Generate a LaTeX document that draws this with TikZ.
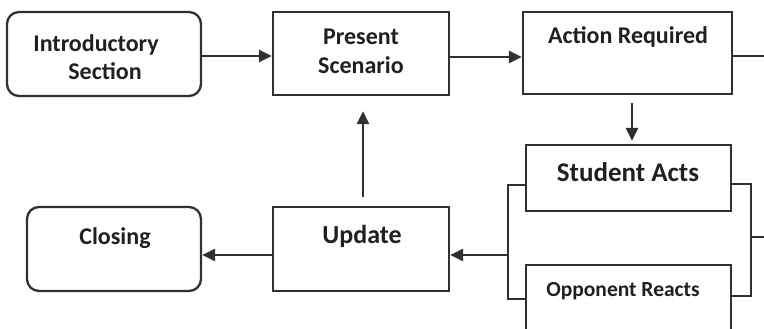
\documentclass[tikz,border=0pt]{standalone}
\usepackage{fontspec}
\setmainfont{Carlito}
\usetikzlibrary{arrows.meta}
\definecolor{edge}{HTML}{303030}
\definecolor{ink}{HTML}{202020}
\tikzset{
  box/.style={draw=edge, line width=2.3pt, fill=white, minimum width=#1, inner sep=0pt},
  rbox/.style={box=#1, rounded corners=12pt},
  txt/.style={text=ink, font=\bfseries, align=center, inner sep=0pt},
  conn/.style={draw=edge, line width=2.3pt},
  arr/.style={conn, -{Triangle[length=13pt,width=12pt]}},
}
\newcommand{\fs}[1]{\fontsize{#1}{#1}\selectfont}
\begin{document}
\begin{tikzpicture}[x=1pt,y=-1pt]
\useasboundingbox[fill=white] (0,0) rectangle (764,329);
% boxes
\node[rbox=194pt, minimum height=84pt] (intro) at (104,54) {};
\node[box=176pt, minimum height=83pt] (present) at (361,53.5) {};
\node[box=209pt, minimum height=82pt] (action) at (627.5,53) {};
\node[box=205pt, minimum height=66pt] (student) at (628.5,178) {};
\node[box=205pt, minimum height=76pt] (opponent) at (628.5,303) {};
\node[box=176pt, minimum height=84pt] (update) at (361,249) {};
\node[rbox=174pt, minimum height=84pt] (closing) at (114,249) {};
% texts
\node[txt, font=\bfseries\fs{24pt}\linespread{1.17}\selectfont] (tintro) at (96,57) {Introductory\\\hspace*{18pt}Section};
\node[txt, font=\bfseries\fs{24pt}\linespread{1.2}\selectfont] (tpresent) at (361,51) {Present\\Scenario};
\node[txt, font=\bfseries\fs{24pt}] (taction) at (628,37) {Action Required};
\node[txt, font=\bfseries\fs{27pt}] (tstudent) at (628,172) {Student Acts};
\node[txt, font=\bfseries\fs{21.5pt}] (topp) at (623,291) {Opponent Reacts};
\node[txt, font=\bfseries\fs{26pt}] (tupdate) at (362,236) {Update};
\node[txt, font=\bfseries\fs{24pt}] (tclosing) at (115,238) {Closing};
% connector points
\coordinate (aout) at (764,56);
\coordinate (lb) at (508,255);
\coordinate (rb) at (751,237);
\coordinate (rout) at (764,237);
% connectors
\draw[arr] (intro.east |- 0,56) -- (present.west |- 0,56);
\draw[arr] (present.east |- 0,57) -- (action.west |- 0,57);
\draw[conn] (action.east |- aout) -- (aout);
\draw[arr, shorten <=8pt, shorten >=3pt] (action.south -| 632,0) -- (student.north -| 632,0);
\draw[conn] (student.west |- 0,185) -| (lb) |- (opponent.west |- 0,299);
\draw[arr] (lb) -- (update.east |- lb);
\draw[conn] (student.east |- 0,184) -| (rb) |- (opponent.east |- 0,296);
\draw[conn] (rb) -- (rout);
\draw[arr, shorten <=9pt, shorten >=15pt] (update.north -| 363,0) -- (present.south -| 363,0);
\draw[arr] (update.west |- 0,255) -- (closing.east |- 0,255);
\end{tikzpicture}
\end{document}
